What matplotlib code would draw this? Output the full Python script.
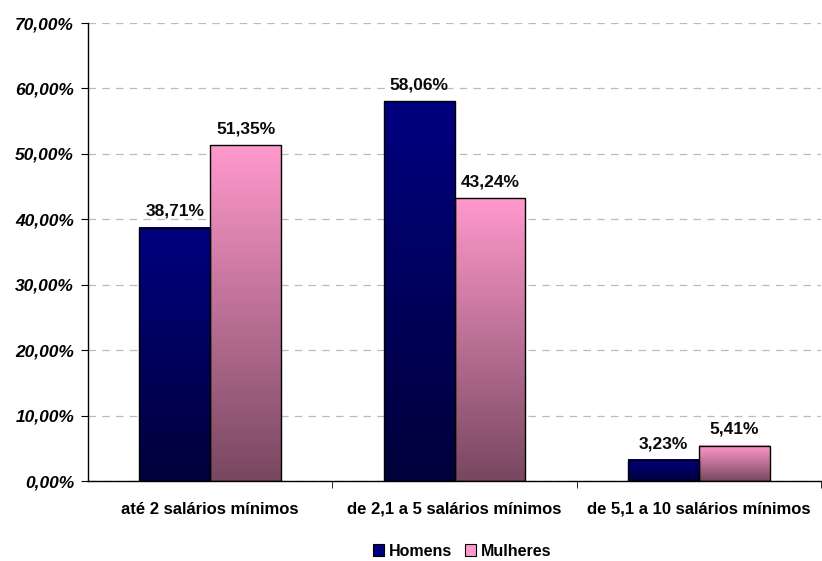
import numpy as np
import matplotlib.pyplot as plt
from matplotlib.colors import LinearSegmentedColormap
from matplotlib.ticker import FuncFormatter, MultipleLocator

categories = ["até 2 salários mínimos", "de 2,1 a 5 salários mínimos", "de 5,1 a 10 salários mínimos"]
homens = [38.71, 58.06, 3.23]
mulheres = [51.35, 43.24, 5.41]
series_names = ["Homens", "Mulheres"]

plt.rcParams['font.family'] = ['Liberation Sans', 'DejaVu Sans']

fig = plt.figure(figsize=(8.22, 5.61), dpi=100)
ax = fig.add_axes([88 / 822, 1 - 481 / 561, 733 / 822, 458 / 561])

x = np.arange(len(categories))
w = 0.29
top_colors = ["#000080", "#FF99CC"]
bottom_colors = ["#00003A", "#784760"]

grad = np.linspace(0, 1, 256).reshape(-1, 1)
handles = []
for i, (vals, name) in enumerate(zip([homens, mulheres], series_names)):
    offs = (i - 0.5) * w
    bars = ax.bar(x + offs, vals, w, facecolor="none", edgecolor="black", linewidth=1.0, zorder=3)
    cmap = LinearSegmentedColormap.from_list(name, [bottom_colors[i], top_colors[i]])
    for b in bars:
        x0, y0 = b.get_x(), b.get_y()
        ax.imshow(grad, cmap=cmap, extent=[x0, x0 + b.get_width(), y0, y0 + b.get_height()],
                  origin="lower", aspect="auto", zorder=2)
    for xi, v in zip(x + offs, vals):
        ax.annotate(f"{v:.2f}%".replace(".", ","), (xi, v), xytext=(0, 8.5),
                    textcoords="offset points", ha="center", va="baseline",
                    fontsize=12.5, fontweight="bold", color="#0a0a0a")
    handles.append(plt.Rectangle((0, 0), 1, 1, facecolor=top_colors[i], edgecolor="black", linewidth=0.8))

ax.set_xlim(-0.5, 2.5)
ax.set_ylim(0, 70)
ax.yaxis.set_major_locator(MultipleLocator(10))
ax.yaxis.set_major_formatter(FuncFormatter(lambda v, p: f"{v:.2f}%".replace(".", ",")))
ax.grid(axis="y", color="#BBBBBB", linestyle=(0, (6, 5)), linewidth=0.9, zorder=0)
ax.set_axisbelow(True)

for s in ["top", "right"]:
    ax.spines[s].set_visible(False)
ax.spines["left"].set_linewidth(1.0)
ax.spines["bottom"].set_linewidth(1.0)

ax.set_xticks(x)
ax.set_xticklabels(categories, fontsize=12, fontweight="bold")
ax.set_xticks([0.5, 1.5, 2.5], minor=True)
ax.tick_params(axis="x", which="major", length=0, pad=15)
ax.tick_params(axis="x", which="minor", length=5, direction="out")
ax.tick_params(axis="y", length=5, direction="out", pad=5)
for lab in ax.get_yticklabels():
    lab.set_fontsize(12.5)
    lab.set_fontweight("bold")
    lab.set_fontstyle("italic")

fig.legend(handles, series_names, loc="center", bbox_to_anchor=(0.562, 1 - 551 / 561),
           ncol=2, frameon=False, handlelength=0.7, handleheight=0.7, handletextpad=0.3,
           columnspacing=0.8, prop={"weight": "bold", "size": 11.5})

fig.savefig("out.png", dpi=100)
